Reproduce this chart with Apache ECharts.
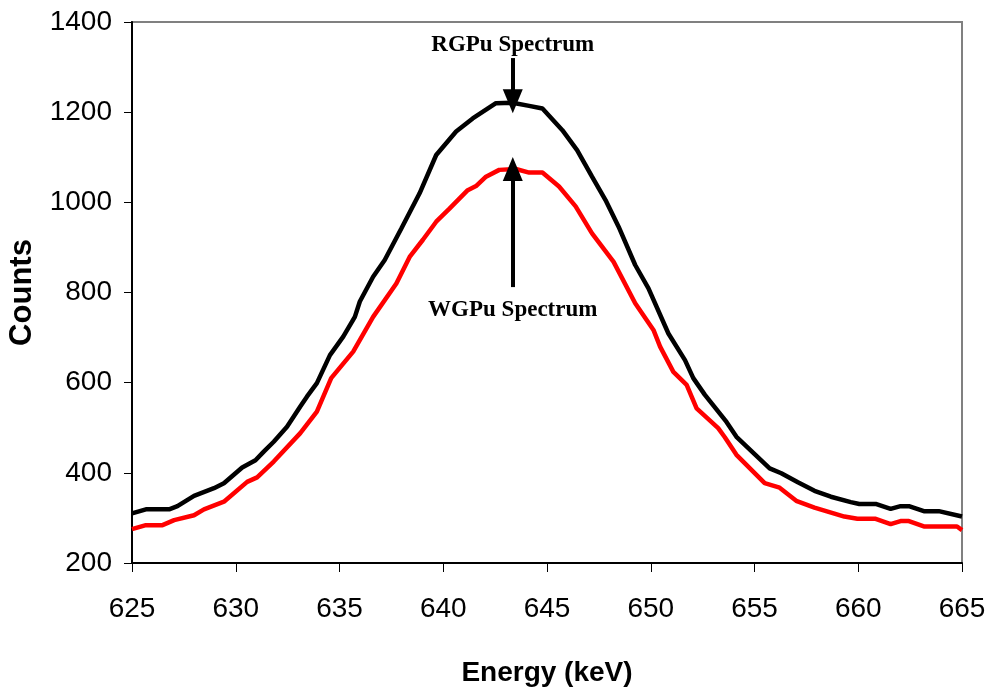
<!DOCTYPE html>
<html>
<head>
<meta charset="utf-8">
<script src="https://cdn.jsdelivr.net/npm/echarts@6/dist/echarts.min.js"></script>
<style>
html,body{margin:0;padding:0;background:#fff;}
#chart{width:993px;height:694px;}
</style>
</head>
<body>
<div id="chart"></div>
<script>
// Energy (keV) and counts
var rgEnergy = [625.0, 625.67, 626.79, 627.19, 627.99, 628.95, 629.43, 630.31, 630.95, 631.35, 631.83, 632.47, 633.11, 633.43, 633.91, 634.54, 635.18, 635.74, 635.98, 636.62, 637.18, 637.98, 638.86, 639.66, 640.62, 641.42, 642.54, 643.34, 644.14, 644.78, 645.74, 646.45, 647.17, 647.82, 648.45, 649.25, 649.89, 650.85, 651.65, 652.05, 652.61, 653.65, 654.13, 655.73, 656.29, 657.09, 657.89, 658.68, 659.64, 660.05, 660.84, 661.56, 662.04, 662.44, 663.16, 663.88, 665.0];
var rgCounts = [310, 319, 319, 326, 349, 366, 377, 412, 428, 447, 469, 502, 547, 569, 599, 661, 702, 746, 780, 835, 872, 942, 1020, 1105, 1157, 1186, 1220, 1221, 1214, 1208, 1160, 1116, 1057, 1005, 946, 861, 809, 709, 650, 610, 573, 513, 480, 410, 399, 379, 360, 347, 335, 331, 331, 320, 326, 326, 315, 315, 303];

var wgEnergy = [625.0, 625.67, 626.47, 627.03, 627.99, 628.47, 629.43, 630.55, 631.03, 631.83, 633.11, 633.91, 634.6, 635.66, 636.62, 637.74, 638.38, 639.02, 639.66, 640.30, 641.18, 641.58, 642.06, 642.70, 643.50, 644.14, 644.78, 645.58, 646.38, 647.17, 648.21, 649.25, 650.13, 650.45, 651.09, 651.73, 652.21, 653.25, 653.57, 654.13, 655.49, 656.21, 657.01, 657.89, 659.33, 659.96, 660.84, 661.56, 662.04, 662.44, 663.16, 664.76, 665.0];
var wgCounts = [275, 284, 284, 295, 306, 319, 336, 380, 390, 425, 488, 536, 610, 669, 746, 820, 879, 917, 957, 986, 1027, 1036, 1057, 1072, 1074, 1066, 1066, 1035, 991, 931, 868, 776, 717, 680, 624, 595, 543, 499, 479, 440, 377, 367, 338, 323, 303, 298, 298, 286, 293, 293, 281, 281, 273];

var xTicks = [625, 630, 635, 640, 645, 650, 655, 660, 665];
var yTicks = [200, 400, 600, 800, 1000, 1200, 1400];

// Annotations (data coordinates)
var annoEnergy = 643.35;
var rgLabel = {text: 'RGPu Spectrum', y: 1349, arrowFrom: 1320, arrowTo: 1224};
var wgLabel = {text: 'WGPu Spectrum', y: 762, arrowFrom: 812, arrowTo: 1074};

function zip(a, b) { return a.map(function (v, i) { return [v, b[i]]; }); }

var sans = "'Liberation Sans', Arial, sans-serif";
var serif = "'Liberation Serif', 'Times New Roman', serif";

var chart = echarts.init(document.getElementById('chart'), null, {renderer: 'canvas'});
chart.setOption({
  animation: false,
  backgroundColor: '#ffffff',
  grid: {left: 132, right: 31, top: 22, bottom: 131, containLabel: false, outerBoundsMode: 'none',
         show: true, borderColor: '#808080', borderWidth: 2, backgroundColor: 'transparent'},
  xAxis: {
    type: 'value', min: xTicks[0], max: xTicks[xTicks.length - 1], interval: 5,
    name: 'Energy (keV)', nameLocation: 'middle', nameGap: 96,
    nameTextStyle: {fontFamily: sans, fontWeight: 'bold', fontSize: 28, color: '#000'},
    axisLine: {show: true, onZero: false, lineStyle: {color: '#000', width: 2}},
    axisTick: {show: true, inside: false, length: 9, lineStyle: {color: '#000', width: 1}},
    axisLabel: {fontFamily: sans, fontSize: 28, color: '#000', margin: 32},
    splitLine: {show: false}
  },
  yAxis: {
    type: 'value', min: yTicks[0], max: yTicks[yTicks.length - 1], interval: 200,
    name: 'Counts', nameLocation: 'middle', nameGap: 94,
    nameTextStyle: {fontFamily: sans, fontWeight: 'bold', fontSize: 31, color: '#000'},
    axisLine: {show: true, lineStyle: {color: '#000', width: 2}},
    axisTick: {show: true, inside: false, length: 8, lineStyle: {color: '#000', width: 1}},
    axisLabel: {fontFamily: sans, fontSize: 28, color: '#000', margin: 20,
                formatter: function (v) { return String(v); }},
    splitLine: {show: false}
  },
  series: [
    {
      name: 'WGPu', type: 'line', data: zip(wgEnergy, wgCounts), showSymbol: false, symbol: 'none',
      lineStyle: {color: '#ff0000', width: 4.5}, z: 3
    },
    {
      name: 'RGPu', type: 'line', data: zip(rgEnergy, rgCounts), showSymbol: false, symbol: 'none',
      lineStyle: {color: '#000000', width: 4.5}, z: 4,
      markLine: {
        silent: true, animation: false,
        symbol: ['none', 'triangle'], symbolSize: [20, 24],
        lineStyle: {color: '#000', width: 4, type: 'solid'},
        label: {show: false},
        data: [
          [{coord: [annoEnergy, rgLabel.arrowFrom]}, {coord: [annoEnergy, rgLabel.arrowTo]}],
          [{coord: [annoEnergy, wgLabel.arrowFrom]}, {coord: [annoEnergy, wgLabel.arrowTo]}]
        ]
      },
      markPoint: {
        silent: true, animation: false,
        symbol: 'circle', symbolSize: 1,
        itemStyle: {color: 'rgba(0,0,0,0)'},
        label: {show: true, position: 'inside', fontFamily: serif, fontWeight: 'bold', fontSize: 23, color: '#000'},
        data: [
          {coord: [annoEnergy, rgLabel.y], label: {formatter: rgLabel.text}},
          {coord: [annoEnergy, wgLabel.y], label: {formatter: wgLabel.text}}
        ]
      }
    }
  ]
});
</script>
</body>
</html>
